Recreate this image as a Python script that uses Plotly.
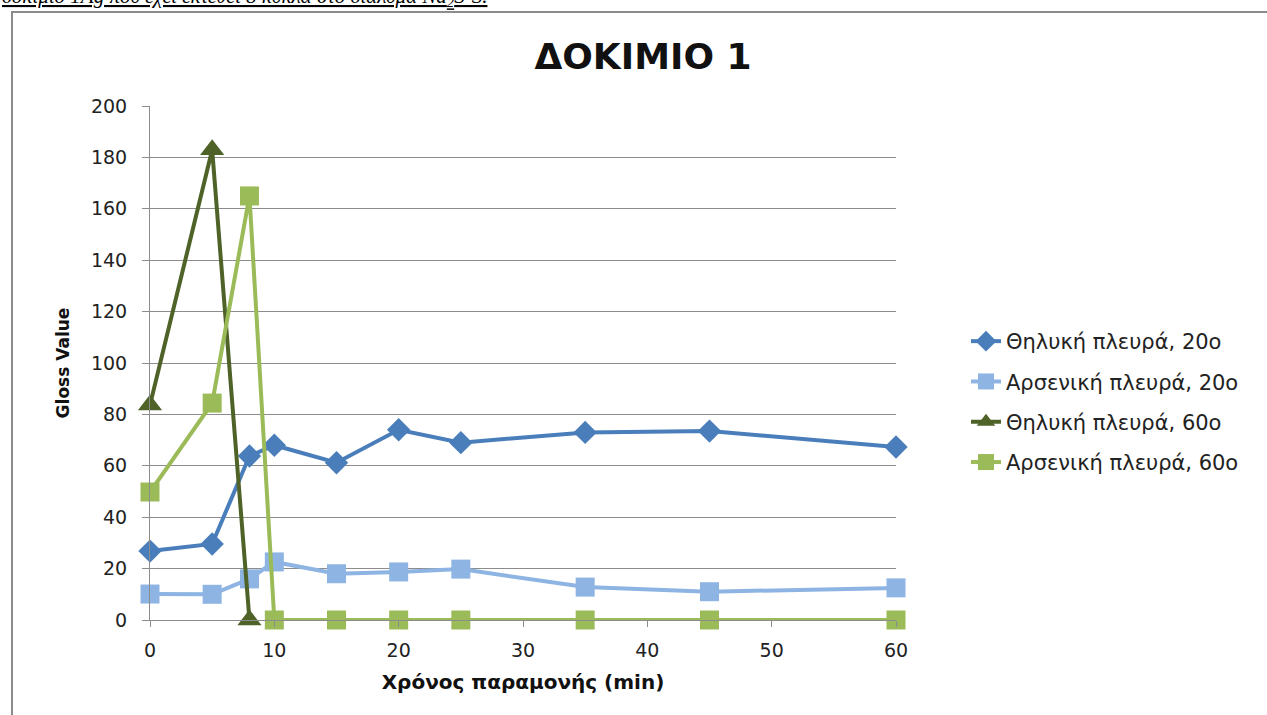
import plotly.graph_objects as go

# Exposure time (min) and gloss readings for each side / angle
time_20 = [0, 5, 8, 10, 15, 20, 25, 35, 45, 60]
female_20 = [26.8, 29.6, 63.8, 68.0, 61.2, 74.0, 69.0, 73.0, 73.5, 67.3]
male_20 = [10.1, 10.0, 16.0, 22.6, 18.0, 18.7, 19.8, 12.8, 11.0, 12.5]

time_60_female = [0, 5, 8]
female_60 = [83.7, 183.0, 0]

time_60_male = [0, 5, 8, 10, 15, 20, 25, 35, 45, 60]
male_60 = [49.8, 84.4, 165.0, 0, 0, 0, 0, 0, 0, 0]

names = ["Θηλυκή πλευρά, 20o", "Αρσενική πλευρά, 20o",
         "Θηλυκή πλευρά, 60o", "Αρσενική πλευρά, 60o"]
x_ticks = [0, 10, 20, 30, 40, 50, 60]
y_ticks = [0, 20, 40, 60, 80, 100, 120, 140, 160, 180, 200]

FONT = "DejaVu Sans"

series = [
    (time_20, female_20, names[0], "#4A7EBB", "diamond", 18),
    (time_20, male_20, names[1], "#8EB4E3", "square", 19),
    (time_60_female, female_60, names[2], "#4F6228", "triangle-up", 21),
    (time_60_male, male_60, names[3], "#9BBB59", "square", 19),
]

fig = go.Figure()
for i, (xs, ys, nm, col, sym, sz) in enumerate(series):
    fig.add_trace(go.Scatter(
        x=xs, y=ys, name=nm, mode="lines+markers",
        line=dict(color=col, width=4),
        marker=dict(symbol=sym, size=sz, color=col, line=dict(width=0)),
        legendgroup=f"g{i}", cliponaxis=False,
    ))

fig.update_layout(
    width=1267, height=715,
    margin=dict(l=150, r=371, t=106, b=95),
    paper_bgcolor="white", plot_bgcolor="white",
    font=dict(family=FONT, color="#222222"),
    title=dict(text="<b>ΔΟΚΙΜΙΟ 1</b>", x=(643 / 1267), xanchor="center",
               y=1 - 56 / 715, yanchor="middle",
               font=dict(size=36, family=FONT, color="#111111")),
    showlegend=True,
    legend=dict(x=(966 - 150) / 746, xanchor="left", y=(620 - 402) / 514, yanchor="middle",
                font=dict(size=21, family=FONT, color="#222222"),
                traceorder="grouped", tracegroupgap=10,
                bgcolor="rgba(0,0,0,0)"),
)

fig.update_xaxes(
    range=[0, 60], tickvals=x_ticks, ticktext=[str(v) for v in x_ticks],
    showgrid=False, zeroline=False,
    showline=True, linecolor="#8C8C8C", linewidth=1,
    ticks="outside", ticklen=6, tickcolor="#8C8C8C",
    ticklabelstandoff=7,
    tickfont=dict(size=19, family=FONT, color="#222222"),
    title=dict(text="<b>Χρόνος παραμονής (min)</b>",
               font=dict(size=20, family=FONT, color="#111111"), standoff=15),
)
fig.update_yaxes(
    range=[0, 200], tickvals=y_ticks, ticktext=[str(v) for v in y_ticks],
    showgrid=True, gridcolor="#8C8C8C", gridwidth=1, zeroline=False,
    showline=True, linecolor="#8C8C8C", linewidth=1,
    ticks="outside", ticklen=7, tickcolor="#8C8C8C",
    ticklabelstandoff=11,
    tickfont=dict(size=19, family=FONT, color="#222222"),
    title=dict(text="<b>Gloss Value</b>",
               font=dict(size=17, family=FONT, color="#111111"), standoff=16),
)

# Outer frame around the chart object
fig.add_shape(type="rect", xref="paper", yref="paper",
              x0=(12 - 150) / 746, x1=(1275 - 150) / 746,
              y0=(620 - 730) / 514, y1=(620 - 12) / 514,
              line=dict(color="#8C8C8C", width=2), layer="below")

# Caption line of the surrounding document, clipped at the top edge
fig.add_annotation(
    xref="paper", yref="paper", x=(0 - 150) / 746, xanchor="left",
    y=(620 - 12) / 514, yanchor="bottom", showarrow=False,
    text="<i><u>δοκίμιο 1Ag που έχει εκτεθεί 8 κύκλα στο διάλυμα Na<sub>2</sub>S-S.</u></i>",
    font=dict(size=21, family="Liberation Serif", color="#000000"),
)

fig.write_html("out.html")
